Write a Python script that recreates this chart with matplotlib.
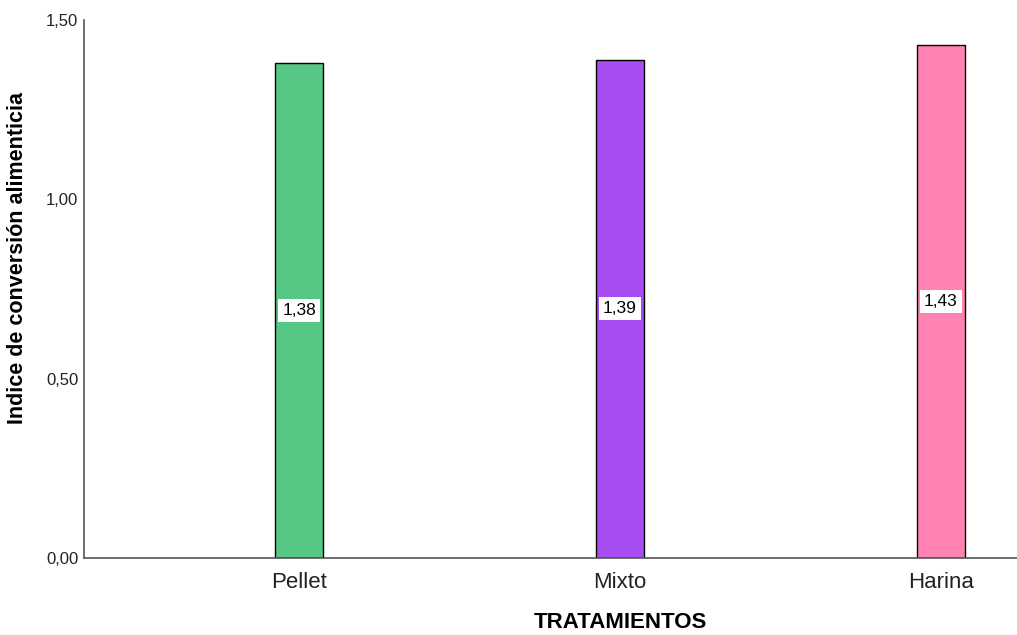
import matplotlib
matplotlib.use("Agg")
import matplotlib.pyplot as plt

# datos
tratamientos = ["Pellet", "Mixto", "Harina"]
ica = [1.38, 1.39, 1.43]
etiquetas = ["1,38", "1,39", "1,43"]
colores = ["#57c785", "#a74cf0", "#ff82b2"]
yticks = [0.0, 0.5, 1.0, 1.5]
ytick_labels = ["0,00", "0,50", "1,00", "1,50"]

plt.rcParams["font.family"] = ["Liberation Sans", "DejaVu Sans"]

fig = plt.figure(figsize=(10.17, 6.35), dpi=100)
# el eje sigue más allá del borde derecho (recorte original)
ax = fig.add_axes([0.0826, 0.1213, 1.054, 0.847])

x = range(len(tratamientos))
ax.bar(x, ica, width=0.15, color=colores, edgecolor="black", linewidth=1, zorder=2)

for i, (v, t) in enumerate(zip(ica, etiquetas)):
    ax.text(i, v / 2, t, ha="center", va="center", fontsize=12.5,
            bbox=dict(boxstyle="square,pad=0.22", facecolor="white", edgecolor="none"),
            zorder=3)

ax.set_xlim(-0.67, 2.67)
ax.set_ylim(0, 1.5)
ax.set_xticks(list(x))
ax.set_xticklabels(tratamientos, fontsize=16, color="#222222")
ax.set_yticks(yticks)
ax.set_yticklabels(ytick_labels, fontsize=12, color="#222222")
ax.tick_params(axis="y", length=0, pad=4)
ax.tick_params(axis="x", length=0, pad=10)

for s in ["top", "right"]:
    ax.spines[s].set_visible(False)
for s in ["left", "bottom"]:
    ax.spines[s].set_color("#555555")
    ax.spines[s].set_linewidth(1.2)

ax.set_xlabel("TRATAMIENTOS", fontsize=16, fontweight="bold", labelpad=14)
ax.set_ylabel("Indice de conversión alimenticia", fontsize=15.5, fontweight="bold")
ax.yaxis.set_label_coords(-0.052, 0.558)

fig.savefig("out.png", dpi=100)
